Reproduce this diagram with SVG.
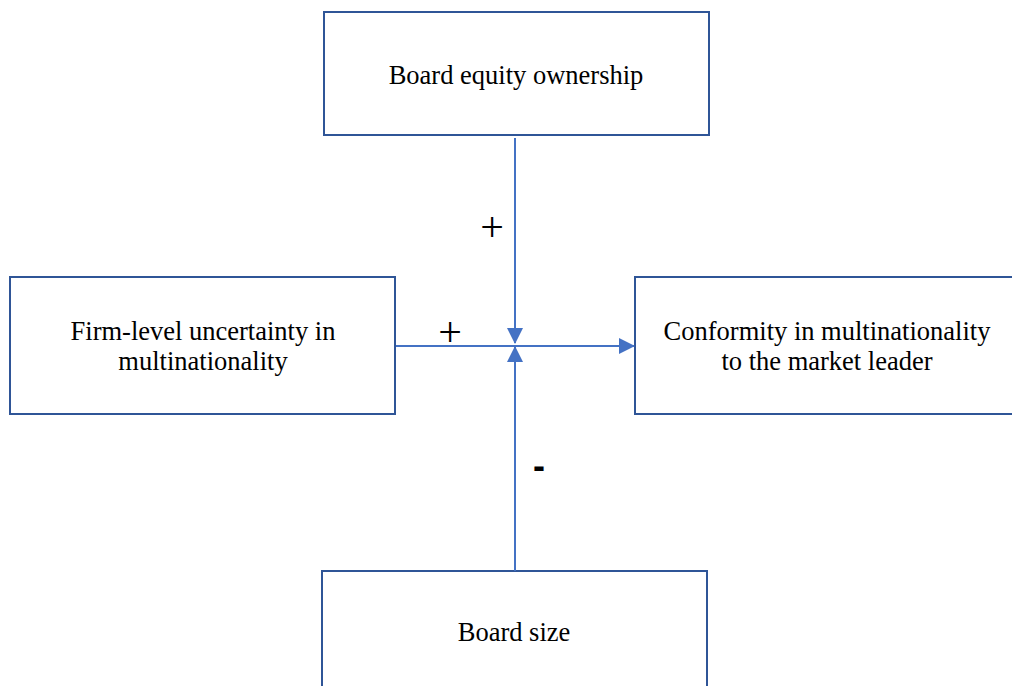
<svg xmlns="http://www.w3.org/2000/svg" width="1012" height="686" viewBox="0 0 1012 686">
<style>
.box{fill:#fff;stroke:#2F5597;stroke-width:2}
.t{font-family:'Liberation Serif','Times New Roman',serif;font-size:26.5px;fill:#000;text-anchor:middle}
.c{stroke:#4472C4;stroke-width:2;fill:none}
.s{font-family:'Liberation Serif','Times New Roman',serif;font-size:42px;fill:#000;text-anchor:middle}
.m{font-family:'Liberation Sans',Arial,sans-serif;font-size:36px;font-weight:bold;fill:#000;text-anchor:middle}
</style>
<defs>
<marker id="ah2" markerWidth="16" markerHeight="16" refX="15" refY="8" orient="auto" markerUnits="userSpaceOnUse" viewBox="0 0 16 16">
<path d="M0,0 L16,8 L0,16 Z" fill="#4472C4"/>
</marker>
</defs>
<g id="n-top"><rect class="box" x="324" y="12" width="385" height="123"/><text class="t" x="516" y="84">Board equity ownership</text></g>
<g id="n-left"><rect class="box" x="10" y="277" width="385" height="137"/><text class="t" x="203" y="340">Firm-level uncertainty in</text><text class="t" x="203" y="370">multinationality</text></g>
<g id="n-right"><rect class="box" x="635" y="277" width="400" height="137"/><text class="t" x="827" y="340">Conformity in multinationality</text><text class="t" x="827" y="370">to the market leader</text></g>
<g id="n-bottom"><rect class="box" x="322" y="571" width="385" height="130"/><text class="t" x="514" y="641">Board size</text></g>
<g id="connectors">
<line class="c" x1="396" y1="346" x2="634" y2="346" marker-end="url(#ah2)"/>
<line class="c" x1="515" y1="138" x2="515" y2="343" marker-end="url(#ah2)"/>
<line class="c" x1="515" y1="571" x2="515" y2="347" marker-end="url(#ah2)"/>
</g>
<g id="labels">
<text class="s" x="492" y="241">+</text>
<text class="s" x="450" y="346">+</text>
<text class="m" x="539" y="478">-</text>
</g>
</svg>
